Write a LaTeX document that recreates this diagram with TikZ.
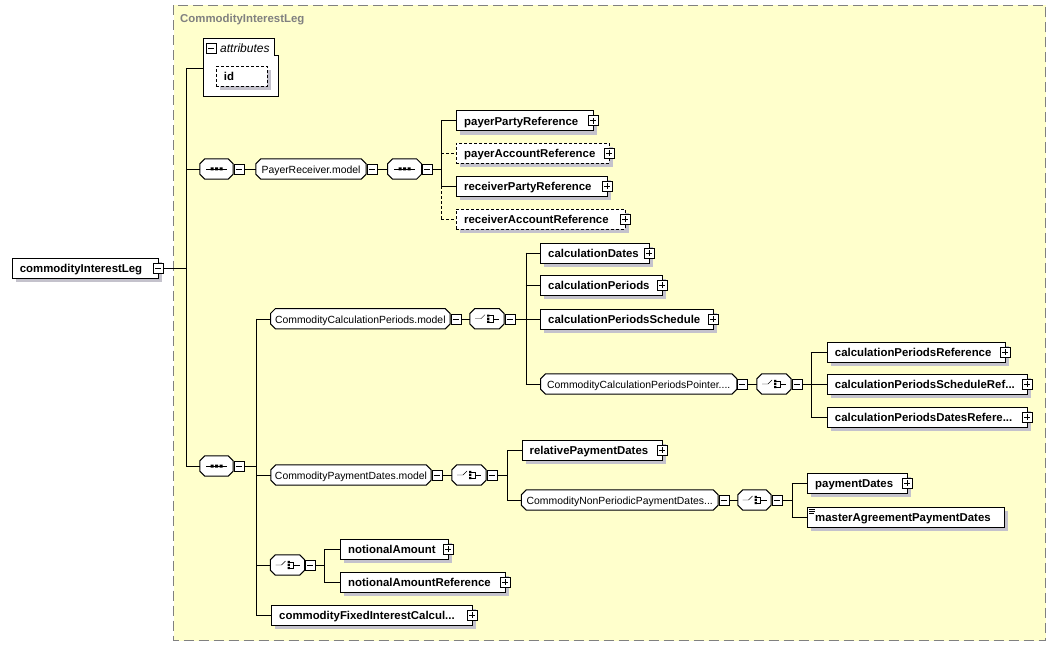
\documentclass[tikz,border=0pt]{standalone}
\usepackage{fontspec}
\setmainfont{Liberation Sans}
\usetikzlibrary{shadows}
\pgfdeclarelayer{back}
\pgfdeclarelayer{bg}
\pgfsetlayers{back,bg,main}
\definecolor{leg}{RGB}{255,255,204}
\definecolor{shd}{RGB}{196,194,204}
\definecolor{ttl}{RGB}{128,128,128}
\newcommand{\boldfnt}{\fontsize{11.4}{13}\selectfont\bfseries}
\newcommand{\regfnt}{\fontsize{10.4}{12}\selectfont}
\newcommand{\octpath}[1]{([shift={(5,0)}]#1.north west) -- ([shift={(-5,0)}]#1.north east) -- ([shift={(0,5)}]#1.north east) -- ([shift={(0,-5)}]#1.south east) -- ([shift={(-5,0)}]#1.south east) -- ([shift={(5,0)}]#1.south west) -- ([shift={(0,-5)}]#1.south west) -- ([shift={(0,5)}]#1.north west) -- cycle}
\newcommand{\octshape}[1]{\begin{pgfonlayer}{bg}
  \fill[shd,shift={(4,4)}] \octpath{#1};
  \draw[black,line width=1pt,fill=white] \octpath{#1};
\end{pgfonlayer}}
\tikzset{
 shadowed/.style={drop shadow={shadow xshift=4pt,shadow yshift=-4pt,fill=shd,opacity=1}},
 elem/.style={draw,fill=white,shadowed,anchor=west,minimum height=20pt,inner xsep=8pt,inner ysep=0pt,text height=9pt,text depth=0pt,align=left,font=\boldfnt},
 optelem/.style={elem,dash pattern=on 3pt off 2pt},
 octo/.style={minimum height=20pt,inner sep=0pt,text height=9pt,text depth=0pt,font=\regfnt},
 pmbox/.style={draw,fill=white,minimum size=10pt,inner sep=0pt},
 minusbox/.style={pmbox,path picture={\draw ([xshift=-3pt]path picture bounding box.center) -- ([xshift=3pt]path picture bounding box.center);}},
 plusbox/.style={pmbox,path picture={\draw ([xshift=-3pt]path picture bounding box.center) -- ([xshift=3pt]path picture bounding box.center); \draw ([yshift=-3pt]path picture bounding box.center) -- ([yshift=3pt]path picture bounding box.center);}},
 optline/.style={dash pattern=on 3pt off 2pt},
 seqicon/.pic={\draw (-10.5,0) -- (10.5,0); \fill (-6,-1.5) rectangle (-3,1.5) (-1.5,-1.5) rectangle (1.5,1.5) (3,-1.5) rectangle (6,1.5);},
 choiceicon/.pic={\draw (-12,0) -- (-6,0) -- (-2,-4); \fill (0,-4.2) rectangle (2.4,-2) (0,-1.1) rectangle (2.4,1.1) (0,2) rectangle (2.4,4.2); \draw (2.4,-3.1) -- (6,-3.1) -- (6,3.1) -- (2.4,3.1) (6,0) -- (12,0);},
}
\begin{document}
\begin{tikzpicture}[x=1pt,y=-1pt,line width=1pt]
\useasboundingbox (0,0) rectangle (1056,647);
% container
\begin{pgfonlayer}{back}
\draw[ttl,line width=1pt,fill=leg,dash pattern=on 10pt off 5pt] (173.5,5.5) rectangle (1045.5,640.5);
\end{pgfonlayer}
\node[anchor=base west,inner sep=0pt,text=ttl,font=\boldfnt] (title) at (180,22.8) {CommodityInterestLeg};
% spine coordinates
\coordinate (sA) at (186,0);
\coordinate (sB) at (441,0);
\coordinate (sC) at (256,0);
\coordinate (sD) at (525.7,0);
\coordinate (sE) at (810.7,0);
\coordinate (sF) at (507,0);
\coordinate (sG) at (791.7,0);
\coordinate (sH) at (324,0);
% attributes
\draw[fill=white] (203,38) -- (274,38) -- (274,55) -- (278,55) -- (278,96) -- (203,96) -- cycle;
\coordinate (attrlink) at (203,68.7);
\node[minusbox] (attrm) at (211,48) {};
\node[anchor=base west,inner sep=0pt,font=\fontsize{12}{14}\selectfont\itshape] (attrt) at (220,53) {attributes};
\node[optelem,text width=35.3pt] (id) at (215.7,76.5) {id};
% root
\node[elem,text width=130pt] (root) at (11.7,268) {commodityInterestLeg};
\node[minusbox] (rootm) at (root.east) {};
% first sequence
\node[octo,minimum width=33pt] (seq1) at (216.5,169) {};
\octshape{seq1}
\pic at (seq1.center) {seqicon};
\node[minusbox] (seq1m) at ([xshift=5.5pt]seq1.east) {};
\node[octo,minimum width=110pt] (prm) at (311,169) {PayerReceiver.model};
\octshape{prm}
\node[minusbox] (prmm) at ([xshift=5.5pt]prm.east) {};
\node[octo,minimum width=33.6pt] (seq3) at (404.5,169) {};
\octshape{seq3}
\pic at (seq3.center) {seqicon};
\node[minusbox] (seq3m) at ([xshift=5.5pt]seq3.east) {};
\node[elem,text width=120.7pt] (ppr) at (456,120.7) {payerPartyReference};
\node[plusbox] (pprp) at (ppr.east) {};
\node[optelem,text width=137pt] (par) at (456,153) {payerAccountReference};
\node[plusbox] (parp) at (par.east) {};
\node[elem,text width=135pt] (rpr) at (456,186) {receiverPartyReference};
\node[plusbox] (rprp) at (rpr.east) {};
\node[optelem,text width=153pt] (rar) at (456,219) {receiverAccountReference};
\node[plusbox] (rarp) at (rar.east) {};
% second sequence
\node[octo,minimum width=33pt] (seq2) at (216.5,466) {};
\octshape{seq2}
\pic at (seq2.center) {seqicon};
\node[minusbox] (seq2m) at ([xshift=5.5pt]seq2.east) {};
% calculation periods
\node[octo,minimum width=179.3pt] (ccp) at (360.35,318.7) {CommodityCalculationPeriods.model};
\octshape{ccp}
\node[minusbox] (ccpm) at ([xshift=5.5pt]ccp.east) {};
\node[octo,minimum width=34pt] (ch1) at (487,318.7) {};
\octshape{ch1}
\pic at (ch1.center) {choiceicon};
\node[minusbox] (ch1m) at ([xshift=5.5pt]ch1.east) {};
\node[elem,text width=93pt] (cd) at (540,252.7) {calculationDates};
\node[plusbox] (cdp) at (cd.east) {};
\node[elem,text width=105.7pt] (cp) at (540,285.3) {calculationPeriods};
\node[plusbox] (cpp) at (cp.east) {};
\node[elem,text width=156.7pt] (cps) at (540,318.7) {calculationPeriodsSchedule};
\node[plusbox] (cpsp) at (cps.east) {};
\node[octo,minimum width=196pt] (ptr) at (638.7,384) {CommodityCalculationPeriodsPointer....};
\octshape{ptr}
\node[minusbox] (ptrm) at ([xshift=5.5pt]ptr.east) {};
\node[octo,minimum width=34pt] (ch2) at (774,384) {};
\octshape{ch2}
\pic at (ch2.center) {choiceicon};
\node[minusbox] (ch2m) at ([xshift=5.5pt]ch2.east) {};
\node[elem,text width=162.3pt] (cpr) at (826.7,352) {calculationPeriodsReference};
\node[plusbox] (cprp) at (cpr.east) {};
\node[elem,text width=184.3pt] (cpsr) at (826.7,384) {calculationPeriodsScheduleRef...};
\node[plusbox] (cpsrp) at (cpsr.east) {};
\node[elem,text width=184.3pt] (cpdr) at (826.7,417) {calculationPeriodsDatesRefere...};
\node[plusbox] (cpdrp) at (cpdr.east) {};
% payment dates
\node[octo,minimum width=160pt] (cpd) at (351,475) {CommodityPaymentDates.model};
\octshape{cpd}
\node[minusbox] (cpdm) at ([xshift=5.5pt]cpd.east) {};
\node[octo,minimum width=34pt] (ch3) at (469,475) {};
\octshape{ch3}
\pic at (ch3.center) {choiceicon};
\node[minusbox] (ch3m) at ([xshift=5.5pt]ch3.east) {};
\node[elem,text width=124.5pt] (rpd) at (521.5,450) {relativePaymentDates};
\node[plusbox] (rpdp) at (rpd.east) {};
\node[octo,minimum width=196.5pt] (cnp) at (619.75,500) {CommodityNonPeriodicPaymentDates...};
\octshape{cnp}
\node[minusbox] (cnpm) at ([xshift=5.5pt]cnp.east) {};
\node[octo,minimum width=33pt] (ch4) at (754.5,500) {};
\octshape{ch4}
\pic at (ch4.center) {choiceicon};
\node[minusbox] (ch4m) at ([xshift=5.5pt]ch4.east) {};
\node[elem,text width=83.7pt] (pd) at (807,483) {paymentDates};
\node[plusbox] (pdp) at (pd.east) {};
\node[elem,text width=181pt] (mapd) at (807,516.7) {masterAgreementPaymentDates};
\draw[line width=0.8pt] ([shift={(2,2.5)}]mapd.north west) -- ++(6,0)
  ([shift={(2,4.5)}]mapd.north west) -- ++(6,0)
  ([shift={(2,6.5)}]mapd.north west) -- ++(4.5,0);
% notional
\node[octo,minimum width=34pt] (ch5) at (287.5,565) {};
\octshape{ch5}
\pic at (ch5.center) {choiceicon};
\node[minusbox] (ch5m) at ([xshift=5.5pt]ch5.east) {};
\node[elem,text width=92pt] (na) at (340,549) {notionalAmount};
\node[plusbox] (nap) at (na.east) {};
\node[elem,text width=148.6pt] (nar) at (340,582) {notionalAmountReference};
\node[plusbox] (narp) at (nar.east) {};
\node[elem,text width=184.6pt] (cfic) at (271,615) {commodityFixedInterestCalcul...};
\node[plusbox] (cficp) at (cfic.east) {};
% connectors
\draw (rootm.east) -- (rootm.east -| sA);
\draw (sA |- attrlink) -- (sA |- seq2.west);
\draw (sA |- attrlink) -- (attrlink);
\draw (sA |- seq1.west) -- (seq1.west);
\draw (sA |- seq2.west) -- (seq2.west);
\draw (seq1m.east) -- (prm.west);
\draw (prmm.east) -- (seq3.west);
\draw (seq3m.east) -- (seq3m.east -| sB);
\draw (sB |- ppr.west) -- (sB |- rpr.west);
\draw[optline] (sB |- rpr.west) -- (sB |- rar.west);
\draw (sB |- ppr.west) -- (ppr.west);
\draw[optline] (sB |- par.west) -- (par.west);
\draw (sB |- rpr.west) -- (rpr.west);
\draw[optline] (sB |- rar.west) -- (rar.west);
\draw (seq2m.east) -- (seq2m.east -| sC);
\draw (sC |- ccp.west) -- (sC |- cfic.west);
\draw (sC |- ccp.west) -- (ccp.west);
\draw (sC |- cpd.west) -- (cpd.west);
\draw (sC |- ch5.west) -- (ch5.west);
\draw (sC |- cfic.west) -- (cfic.west);
\draw (ccpm.east) -- (ch1.west);
\draw (ch1m.east) -- (ch1m.east -| sD);
\draw (sD |- cd.west) -- (sD |- ptr.west);
\draw (sD |- cd.west) -- (cd.west);
\draw (sD |- cp.west) -- (cp.west);
\draw (sD |- cps.west) -- (cps.west);
\draw (sD |- ptr.west) -- (ptr.west);
\draw (ptrm.east) -- (ch2.west);
\draw (ch2m.east) -- (ch2m.east -| sE);
\draw (sE |- cpr.west) -- (sE |- cpdr.west);
\draw (sE |- cpr.west) -- (cpr.west);
\draw (sE |- cpsr.west) -- (cpsr.west);
\draw (sE |- cpdr.west) -- (cpdr.west);
\draw (cpdm.east) -- (ch3.west);
\draw (ch3m.east) -- (ch3m.east -| sF);
\draw (sF |- rpd.west) -- (sF |- cnp.west);
\draw (sF |- rpd.west) -- (rpd.west);
\draw (sF |- cnp.west) -- (cnp.west);
\draw (cnpm.east) -- (ch4.west);
\draw (ch4m.east) -- (ch4m.east -| sG);
\draw (sG |- pd.west) -- (sG |- mapd.west);
\draw (sG |- pd.west) -- (pd.west);
\draw (sG |- mapd.west) -- (mapd.west);
\draw (ch5m.east) -- (ch5m.east -| sH);
\draw (sH |- na.west) -- (sH |- nar.west);
\draw (sH |- na.west) -- (na.west);
\draw (sH |- nar.west) -- (nar.west);
\end{tikzpicture}
\end{document}
